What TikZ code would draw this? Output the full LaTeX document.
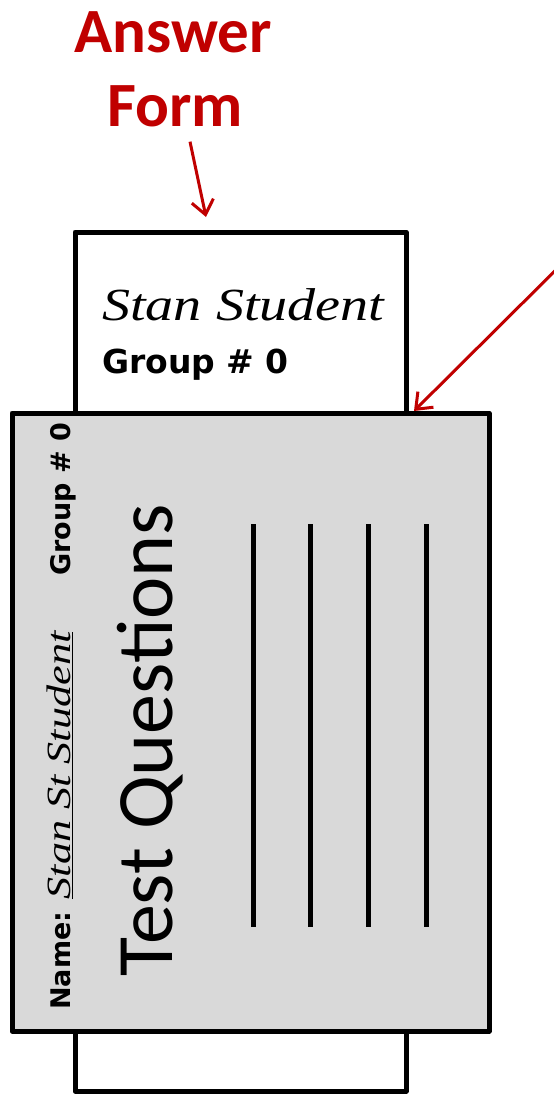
\documentclass[tikz,border=0pt]{standalone}
\usepackage{fontspec}
\setmainfont{Carlito}
\newfontfamily\handfont{Liberation Serif}
\newfontfamily\labelfont{DejaVu Sans}
\usepackage{xcolor}
\usetikzlibrary{arrows.meta}
\definecolor{formred}{HTML}{C00000}
\definecolor{sheetgray}{HTML}{D9D9D9}

\begin{document}
\begin{tikzpicture}[x=1pt, y=-1pt,
    box/.style={draw=black, line width=5pt, line join=round, inner sep=0pt, outer sep=0pt, anchor=north west},
    callout/.style={font=\bfseries\fontsize{63}{72}\selectfont, text=formred, inner sep=0pt, anchor=base},
    plain/.style={inner sep=0pt, anchor=base west},
    sidetext/.style={rotate=90, inner sep=0pt, anchor=base west},
    pointer/.style={draw=formred, line width=3pt, -{Straight Barb[length=14pt, width=22pt]}},
    rule/.style={line width=5pt}]
    \clip (0,0) rectangle (554,1095);

    % labels above
    \node[callout] (answerlbl) at (173,52) {Answer};
    \node[callout] (formlbl) at (175,126) {Form};

    % answer form behind the sheet
    \node[box, fill=white, minimum width=331pt, minimum height=859pt] (form) at (75,232) {};
    \node[plain, font=\handfont\itshape\fontsize{46}{50}\selectfont] (formname) at (102,320) {\scalebox{1.22}[1]{Stan Student}};
    \node[plain, font=\labelfont\bfseries\fontsize{33}{40}\selectfont] (formgroup) at (102,373) {Group \# 0};

    % question sheet
    \node[box, fill=sheetgray, minimum width=477pt, minimum height=618pt] (sheet) at (12,413) {};
    \node[sidetext, font=\labelfont\bfseries\fontsize{27}{32}\selectfont] (sheetgroup) at (70,576) {Group \# 0};
    \node[sidetext, font=\labelfont\bfseries\fontsize{27}{32}\selectfont] (sheetname) at (70,1010)
        {Name: \underline{\handfont\mdseries\itshape\fontsize{34}{40}\selectfont\scalebox{1.3}[1]{Stan St Student}}};
    \node[sidetext, font=\fontsize{80}{96}\selectfont] (questions) at (172,977) {Test Questions};
    \foreach \x in {253,310,368,426}
        \draw[rule] (\x,524) -- (\x,927);

    % arrows
    \coordinate (tipA) at (206,217);
    \coordinate (tailB) at (590,236);
    \coordinate (tipB) at (414,411);
    \draw[pointer] ([shift={(15pt,-15pt)}]formlbl.south) -- (tipA);
    \draw[pointer] (tailB) -- (tipB);
\end{tikzpicture}
\end{document}
